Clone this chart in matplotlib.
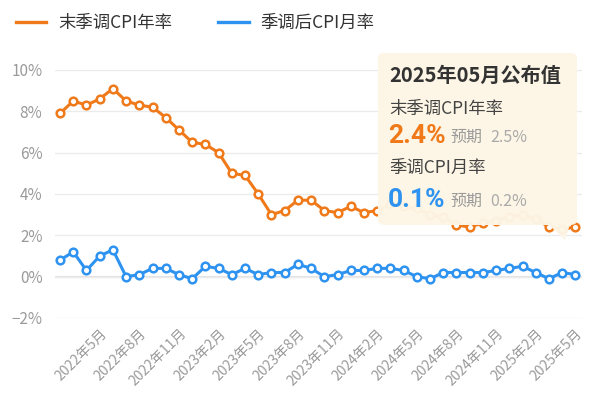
import numpy as np
import matplotlib.pyplot as plt
from matplotlib.patches import FancyBboxPatch, Polygon
from matplotlib.lines import Line2D

plt.rcParams['font.family'] = ['Noto Sans CJK SC', 'DejaVu Sans']

# monthly data, 2022-02 .. 2025-05
months = ["2022-02", "2022-03", "2022-04", "2022-05", "2022-06", "2022-07", "2022-08", "2022-09",
          "2022-10", "2022-11", "2022-12", "2023-01", "2023-02", "2023-03", "2023-04", "2023-05",
          "2023-06", "2023-07", "2023-08", "2023-09", "2023-10", "2023-11", "2023-12", "2024-01",
          "2024-02", "2024-03", "2024-04", "2024-05", "2024-06", "2024-07", "2024-08", "2024-09",
          "2024-10", "2024-11", "2024-12", "2025-01", "2025-02", "2025-03", "2025-04", "2025-05"]
cpi_yoy = [7.9, 8.5, 8.3, 8.6, 9.1, 8.5, 8.3, 8.2, 7.7, 7.1, 6.5, 6.4, 6.0, 5.0, 4.9, 4.0,
           3.0, 3.2, 3.7, 3.7, 3.2, 3.1, 3.4, 3.1, 3.2, 3.5, 3.4, 3.3, 3.0, 2.9, 2.5, 2.4,
           2.6, 2.7, 2.9, 3.0, 2.8, 2.4, 2.3, 2.4]
cpi_mom = [0.8, 1.2, 0.3, 1.0, 1.3, 0.0, 0.1, 0.4, 0.4, 0.1, -0.1, 0.5, 0.4, 0.1, 0.4, 0.1,
           0.2, 0.2, 0.6, 0.4, 0.0, 0.1, 0.3, 0.3, 0.4, 0.4, 0.3, 0.0, -0.1, 0.2, 0.2, 0.2,
           0.2, 0.3, 0.4, 0.5, 0.2, -0.1, 0.2, 0.1]
tick_labels = ["2022年5月", "2022年8月", "2022年11月", "2023年2月", "2023年5月", "2023年8月",
               "2023年11月", "2024年2月", "2024年5月", "2024年8月", "2024年11月", "2025年2月",
               "2025年5月"]
yticks = [-2, 0, 2, 4, 6, 8, 10]

orange = '#F07A1A'
blue = '#2E93F0'
grey = '#9A9A9A'

W, H = 600, 394
fig = plt.figure(figsize=(6, 3.94), dpi=100)
ax = fig.add_axes([55 / W, 1 - 318 / H, (582 - 55) / W, (318 - 70) / H])

x = np.arange(len(months))
mk = dict(marker='o', markersize=5.5, markerfacecolor='white', markeredgewidth=1.8, lw=2.2)
ax.plot(x, cpi_yoy, color=orange, zorder=3, **mk)
ax.plot(x, cpi_mom, color=blue, zorder=3, **mk)

ax.set_ylim(-2, 10)
ax.set_yticks(yticks)
ax.set_yticklabels([f"{v}%" if v >= 0 else f"\u2212{-v}%" for v in yticks], color=grey, fontsize=11)
ax.set_xlim(-0.38, 39.5)
ax.set_xticks(x[3::3])
ax.set_xticklabels(tick_labels, rotation=45, ha='right', rotation_mode='anchor', color=grey, fontsize=10)
ax.tick_params(axis='y', length=0, pad=9)
ax.tick_params(axis='x', length=0, pad=6)
ax.grid(axis='y', color='#EBEBEB', lw=1)
ax.axhline(0, color='#E3E3E3', lw=1.5, zorder=1)
for s in ax.spines.values():
    s.set_visible(False)

# legend
handles = [Line2D([], [], color=orange, lw=2.4), Line2D([], [], color=blue, lw=2.4)]
fig.legend(handles, ["末季调CPI年率", "季调后CPI月率"], loc='upper left', bbox_to_anchor=(0.0, 1.004),
           ncol=2, frameon=False, fontsize=12.5, handlelength=1.75, handletextpad=0.7,
           columnspacing=2.65, labelcolor='#333333')

# tooltip
def fx(px):
    return px / W

def fy(py):
    return 1 - py / H

box = FancyBboxPatch((fx(378), fy(225)), fx(577) - fx(378), fy(53) - fy(225),
                     boxstyle='round,pad=0,rounding_size=0.012', transform=fig.transFigure,
                     facecolor='#FDF6E6', edgecolor='none', alpha=0.97, zorder=10)
fig.add_artist(box)
tri = Polygon([[fx(548), fy(224)], [fx(570), fy(224)], [fx(565), fy(240)]], closed=True,
              transform=fig.transFigure, facecolor='#FDF6E6', edgecolor='none', alpha=0.97, zorder=10)
fig.add_artist(tri)

fig.text(fx(389), fy(75), "2025年05月公布值", fontsize=14.5, fontweight='bold', color='#333333',
         va='center', zorder=11)
fig.text(fx(389), fy(109), "末季调CPI年率", fontsize=12.5, color='#444444', va='center', zorder=11)
fig.text(fx(388), fy(136), "2.4%", fontsize=19, fontweight='bold', color=orange, va='center',
         family='Roboto', zorder=11)
fig.text(fx(450), fy(137), "预期", fontsize=11.5, color=grey, va='center', zorder=11)
fig.text(fx(490), fy(137), "2.5%", fontsize=11.5, color='#AAAAAA', va='center', zorder=11)
fig.text(fx(389), fy(168), "季调CPI月率", fontsize=12.5, color='#444444', va='center', zorder=11)
fig.text(fx(388), fy(200), "0.1%", fontsize=19, fontweight='bold', color=blue, va='center',
         family='Roboto', zorder=11)
fig.text(fx(450), fy(201), "预期", fontsize=11.5, color=grey, va='center', zorder=11)
fig.text(fx(490), fy(201), "0.2%", fontsize=11.5, color='#AAAAAA', va='center', zorder=11)

fig.savefig('out.png', dpi=100)
